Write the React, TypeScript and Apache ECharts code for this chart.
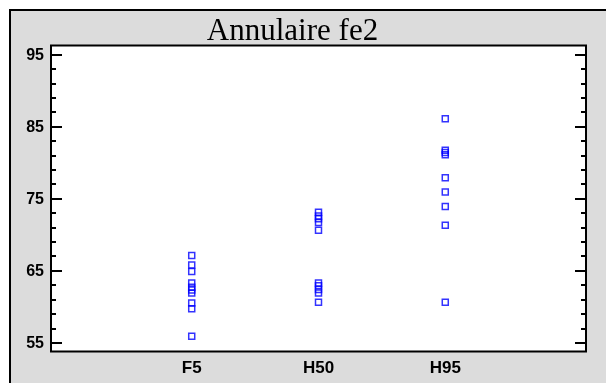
import React, { useEffect, useRef } from "react";
import * as echarts from "echarts";

const categories = ["F5", "H50", "H95"];
const categoryPositions = [1, 2, 3];
const f5Values = [67.1, 65.8, 64.9, 63.3, 62.7, 62.3, 61.9, 60.5, 59.7, 55.9];
const h50Values = [73.1, 72.6, 72.2, 71.7, 70.6, 63.3, 62.9, 62.4, 61.9, 60.6];
const h95Values = [86.1, 81.7, 81.4, 81.1, 77.9, 75.9, 73.9, 71.3, 60.6];
const yTicks = [55, 65, 75, 85, 95];
const yMinorTicks = [57, 59, 61, 63, 67, 69, 71, 73, 77, 79, 81, 83, 87, 89, 91, 93];

const allSeries = [f5Values, h50Values, h95Values];

export default function App() {
  const ref = useRef<HTMLDivElement>(null);
  useEffect(() => {
    document.body.style.margin = "0";
    document.body.style.overflow = "hidden";
    const chart = echarts.init(ref.current!, null, { renderer: "svg" });
    const data: number[][] = [];
    allSeries.forEach((vals, i) => vals.forEach((v) => data.push([categoryPositions[i], v])));
    const labelFont = {
      fontFamily: "Liberation Sans, Arial, sans-serif",
      fontWeight: "bold" as const,
      fontSize: 16,
      color: "#000",
    };
    const yBase = {
      type: "value" as const,
      min: 53.78,
      max: 96.25,
      axisLine: { show: false, onZero: false },
      splitLine: { show: false },
    };
    const majorAxis = (position: "left" | "right", showLabel: boolean) => ({
      ...yBase,
      position,
      axisTick: {
        show: true,
        inside: true,
        length: 11,
        customValues: yTicks,
        lineStyle: { color: "#000", width: 2 },
      },
      axisLabel: showLabel
        ? { ...labelFont, margin: 7, customValues: yTicks }
        : { show: false },
    });
    const minorAxis = (position: "left" | "right") => ({
      ...yBase,
      position,
      axisTick: {
        show: true,
        inside: true,
        length: 5,
        customValues: yMinorTicks,
        lineStyle: { color: "#000", width: 2 },
      },
      axisLabel: { show: false },
    });
    chart.setOption({
      animation: false,
      graphic: [
        {
          type: "rect",
          z: -10,
          shape: { x: 9, y: 9, width: 700, height: 500 },
          style: { fill: "#dcdcdc" },
        },
        {
          type: "line",
          z: -9,
          shape: { x1: 9, y1: 10, x2: 700, y2: 10 },
          style: { stroke: "#000", lineWidth: 2 },
        },
        {
          type: "line",
          z: -9,
          shape: { x1: 10, y1: 9, x2: 10, y2: 500 },
          style: { stroke: "#000", lineWidth: 2 },
        },
        {
          type: "text",
          z: 10,
          x: 292.5,
          y: 29,
          style: {
            text: "Annulaire fe2",
            font: '31px "Liberation Serif", "Times New Roman", serif',
            fill: "#000",
            align: "center",
            verticalAlign: "middle",
          },
        },
      ],
      grid: {
        left: 51,
        top: 45.5,
        width: 535,
        height: 306,
        show: true,
        backgroundColor: "#fff",
        borderColor: "#000",
        borderWidth: 2,
        containLabel: false,
      },
      xAxis: {
        type: "value",
        min: -0.11,
        max: 4.11,
        axisLine: { show: false, onZero: false },
        axisTick: { show: false },
        splitLine: { show: false },
        axisLabel: {
          ...labelFont,
          fontSize: 17,
          margin: 7,
          customValues: categoryPositions,
          formatter: (v: number) => categories[categoryPositions.indexOf(v)] ?? "",
        },
      },
      yAxis: [majorAxis("left", true), minorAxis("left"), majorAxis("right", false), minorAxis("right")],
      series: [
        {
          type: "scatter",
          yAxisIndex: 0,
          symbol: "rect",
          symbolSize: 6,
          itemStyle: { color: "rgba(255,255,255,0)", borderColor: "#0000ff", borderWidth: 1.5 },
          data,
        },
      ],
    });
    return () => chart.dispose();
  }, []);
  return <div ref={ref} style={{ position: "fixed", left: 0, top: 0, width: 606, height: 383 }} />;
}
